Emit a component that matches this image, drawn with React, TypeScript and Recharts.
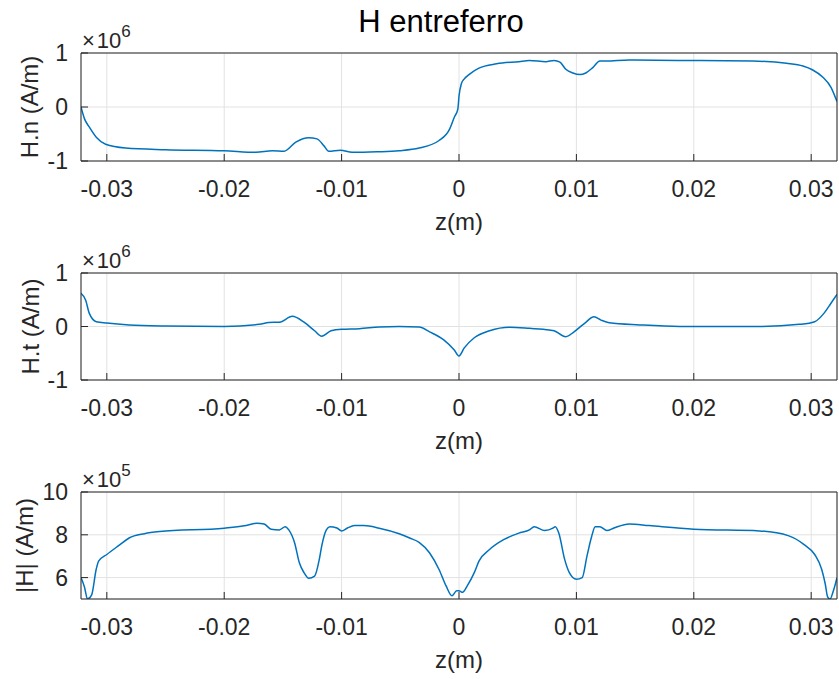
import React from 'react';
import { LineChart, Line, XAxis, YAxis, CartesianGrid } from 'recharts';

const zTicks = [-0.03, -0.02, -0.01, 0, 0.01, 0.02, 0.03];
const zDomain = [-0.0322, 0.0322];

// H.n  (x10^6 A/m)
const hnZ = [
  -0.0322, -0.0319, -0.0315, -0.0309, -0.0301, -0.0284, -0.025, -0.02, -0.0173, -0.0159,
  -0.0149, -0.0139, -0.0128, -0.0121, -0.0115, -0.0111, -0.0101, -0.0091, -0.007, -0.0051,
  -0.0034, -0.0017, -0.0008, -0.0004, -0.0001, 0.0, 0.0002, 0.00045, 0.0009, 0.0017,
  0.0032, 0.0051, 0.006, 0.0074, 0.0081, 0.0086, 0.0091, 0.0097, 0.0103, 0.0108,
  0.0114, 0.012, 0.0125, 0.0145, 0.0199, 0.025, 0.0279, 0.0293, 0.0301, 0.031,
  0.0317, 0.0322,
];
const hnVal = [
  0.0, -0.22, -0.37, -0.56, -0.69, -0.76, -0.79, -0.81, -0.84, -0.81,
  -0.82, -0.65, -0.57, -0.59, -0.72, -0.82, -0.8, -0.84, -0.83, -0.81,
  -0.76, -0.62, -0.41, -0.19, -0.04, 0.2, 0.43, 0.52, 0.61, 0.72,
  0.8, 0.84, 0.86, 0.84, 0.86, 0.83, 0.7, 0.63, 0.6, 0.63,
  0.73, 0.85, 0.85, 0.87, 0.86, 0.85, 0.81, 0.76, 0.69, 0.55,
  0.36, 0.1,
];

// H.t  (x10^6 A/m)
const htZ = [
  -0.0322, -0.0318, -0.0315, -0.0309, -0.03, -0.0281, -0.025, -0.02, -0.017, -0.0162,
  -0.0153, -0.0142, -0.0132, -0.0123, -0.0117, -0.0109, -0.01, -0.0085, -0.0068, -0.0051,
  -0.0034, -0.0025, -0.0013, -0.0004, 0.0, 0.00045, 0.0013, 0.0026, 0.0043, 0.006,
  0.0077, 0.0081, 0.0091, 0.0098, 0.0107, 0.0115, 0.0121, 0.0128, 0.0154, 0.0188,
  0.0256, 0.029, 0.0303, 0.0311, 0.0317, 0.0322,
];
const htVal = [
  0.62, 0.49, 0.25, 0.09, 0.065, 0.03, 0.01, 0.0, 0.04, 0.075,
  0.08, 0.19, 0.08, -0.08, -0.18, -0.08, -0.05, -0.04, -0.01, 0.0,
  -0.01, -0.1, -0.25, -0.44, -0.55, -0.4, -0.21, -0.08, -0.015, -0.035,
  -0.065, -0.08, -0.19, -0.1, 0.06, 0.18, 0.12, 0.07, 0.03, 0.0,
  0.0, 0.04, 0.09, 0.25, 0.44, 0.6,
];

// |H|  (x10^5 A/m)
const habsZ = [
  -0.0322, -0.0319, -0.03165, -0.0313, -0.0309, -0.0307, -0.03, -0.029, -0.0281, -0.0268,
  -0.0255, -0.02, -0.0183, -0.0172, -0.0166, -0.016, -0.0153, -0.0148, -0.0145, -0.014,
  -0.0136, -0.0132, -0.0128, -0.0123, -0.0119, -0.0117, -0.0113, -0.011, -0.0104, -0.01,
  -0.0095, -0.0089, -0.0081, -0.0068, -0.0051, -0.0042, -0.0034, -0.0025, -0.0017, -0.0011,
  -0.0006, -0.0002, 0.0, 0.0003, 0.0007, 0.0013, 0.0017, 0.0026, 0.0038, 0.0051,
  0.006, 0.0064, 0.0073, 0.008, 0.0082, 0.0085, 0.009, 0.0094, 0.01, 0.0105,
  0.0109, 0.0113, 0.0116, 0.012, 0.0126, 0.0132, 0.0145, 0.0162, 0.02, 0.0256,
  0.0281, 0.0294, 0.0303, 0.0309, 0.0312, 0.0314, 0.0316, 0.0319, 0.0322,
];
const habsVal = [
  6.0, 5.55, 5.0, 5.18, 6.4, 6.77, 7.08, 7.49, 7.85, 8.05,
  8.15, 8.31, 8.42, 8.54, 8.5, 8.26, 8.23, 8.38, 8.23, 7.62,
  6.69, 6.23, 5.97, 6.07, 6.85, 7.46, 8.23, 8.38, 8.32, 8.18,
  8.32, 8.43, 8.43, 8.31, 8.05, 7.85, 7.65, 7.15, 6.38, 5.61,
  5.15, 5.38, 5.38, 5.31, 5.61, 6.23, 6.77, 7.31, 7.77, 8.08,
  8.23, 8.38, 8.2, 8.31, 8.38, 8.08, 6.85, 6.23, 5.92, 6.0,
  7.0, 7.92, 8.38, 8.38, 8.2, 8.32, 8.51, 8.43, 8.26, 8.18,
  7.95, 7.54, 7.08, 6.38, 5.7, 5.1, 5.0, 5.4, 6.0,
];

const hnTicks = [-1, 0, 1];
const htTicks = [-1, 0, 1];
const habsTicks = [6, 8, 10];

const toRows = (zs: number[], vs: number[]) => zs.map((z, i) => ({ z, v: vs[i] }));

const INK = '#262626';
const FONT = '"Liberation Sans", Arial, Helvetica, sans-serif';
const tickStyle = { fill: INK, fontSize: 23, fontFamily: FONT };

const YLab = ({ viewBox, text, exp, cx }: any) => {
  const top = viewBox.y;
  const mid = viewBox.y + viewBox.height / 2;
  return (
    <g fontFamily={FONT} fill={INK}>
      <text
        x={cx}
        y={mid}
        transform={`rotate(-90 ${cx} ${mid})`}
        textAnchor="middle"
        dominantBaseline="central"
        fontSize={24}
      >
        {text}
      </text>
      <text x={82} y={top - 5} fontSize={22}>
        <tspan>×</tspan>
        <tspan dx={2}>10</tspan>
        <tspan fontSize={17} dy={-11}>
          {exp}
        </tspan>
      </text>
    </g>
  );
};

const XLab = ({ viewBox }: any) => (
  <text
    x={viewBox.x + viewBox.width / 2}
    y={viewBox.y + 60}
    textAnchor="middle"
    dominantBaseline="central"
    fontSize={24}
    fontFamily={FONT}
    fill={INK}
  >
    z(m)
  </text>
);

const TitleLab = ({ viewBox, text }: any) => (
  <text
    x={viewBox.x + viewBox.width / 2 - 18}
    y={32}
    textAnchor="middle"
    fontSize={31}
    fontFamily={FONT}
    fill="#000"
  >
    {text}
  </text>
);

function Panel({ rows, yDomain, yTicks, yLabel, exp, top, height, plotTop, plotHeight, labelX, title }: any) {
  const bottomH = height - plotTop - plotHeight;
  return (
    <div style={{ position: 'absolute', left: 0, top }}>
      <LineChart
        width={839}
        height={height}
        data={rows}
        margin={{ top: plotTop - 1, right: 0, bottom: 0, left: 0 }}
      >
        <CartesianGrid stroke="#e2e2e2" strokeWidth={1} />
        <Line
          type="monotone"
          dataKey="v"
          stroke="#0072BD"
          strokeWidth={1.5}
          dot={false}
          isAnimationActive={false}
        />
        <XAxis
          dataKey="z"
          type="number"
          domain={zDomain}
          allowDataOverflow
          ticks={zTicks}
          interval={0}
          height={bottomH}
          tick={tickStyle}
          tickSize={-7}
          tickMargin={27}
          tickLine={{ stroke: INK }}
          axisLine={{ stroke: INK }}
          label={<XLab />}
        />
        <XAxis
          xAxisId="t"
          orientation="top"
          dataKey="z"
          type="number"
          domain={zDomain}
          allowDataOverflow
          ticks={zTicks}
          interval={0}
          height={1}
          tick={false}
          tickSize={-7}
          tickLine={{ stroke: INK }}
          axisLine={{ stroke: INK }}
          label={title ? <TitleLab text={title} /> : undefined}
        />
        <YAxis
          type="number"
          domain={yDomain}
          allowDataOverflow
          ticks={yTicks}
          interval={0}
          width={81}
          tick={tickStyle}
          tickSize={-7}
          tickMargin={20}
          tickLine={{ stroke: INK }}
          axisLine={{ stroke: INK }}
          label={<YLab text={yLabel} exp={exp} cx={labelX} />}
        />
        <YAxis
          yAxisId="r"
          orientation="right"
          type="number"
          domain={yDomain}
          allowDataOverflow
          ticks={yTicks}
          interval={0}
          width={2}
          tick={false}
          tickSize={-7}
          tickLine={{ stroke: INK }}
          axisLine={{ stroke: INK }}
        />
      </LineChart>
    </div>
  );
}

export default function App() {
  return (
    <div
      style={{
        position: 'absolute',
        left: 0,
        top: 0,
        width: 839,
        height: 679,
        background: '#fff',
        fontFamily: FONT,
      }}
    >
      <Panel
        rows={toRows(hnZ, hnVal)}
        yDomain={[-1, 1]}
        yTicks={hnTicks}
        yLabel="H.n (A/m)"
        exp="6"
        top={0}
        height={240}
        plotTop={53}
        plotHeight={108}
        labelX={29}
        title="H entreferro"
      />
      <Panel
        rows={toRows(htZ, htVal)}
        yDomain={[-1, 1]}
        yTicks={htTicks}
        yLabel="H.t (A/m)"
        exp="6"
        top={240}
        height={220}
        plotTop={33}
        plotHeight={107}
        labelX={30}
      />
      <Panel
        rows={toRows(habsZ, habsVal)}
        yDomain={[5, 10]}
        yTicks={habsTicks}
        yLabel="|H| (A/m)"
        exp="5"
        top={460}
        height={219}
        plotTop={32}
        plotHeight={107}
        labelX={24}
      />
    </div>
  );
}
